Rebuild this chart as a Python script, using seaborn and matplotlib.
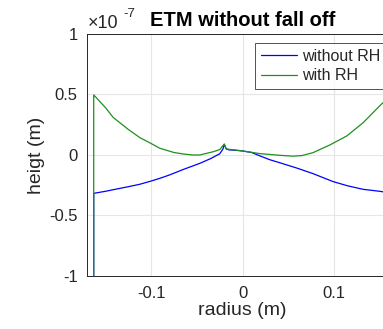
import matplotlib
matplotlib.use("Agg")
import matplotlib.pyplot as plt
import seaborn as sns
import pandas as pd

# radius (m) and height (x1e-7 m)
radius_no_rh = [-0.163, -0.163, -0.15, -0.1417, -0.125, -0.1125, -0.1, -0.0906, -0.08,
                -0.065, -0.0468, -0.035, -0.025, -0.0215, -0.0201, -0.018, -0.015, -0.005,
                0.0, 0.01, 0.019, 0.03, 0.041, 0.06, 0.077, 0.099, 0.115, 0.132, 0.15, 0.163]
height_no_rh = [-1.2, -0.317, -0.30, -0.287, -0.262, -0.242, -0.215, -0.193, -0.165,
                -0.12, -0.069, -0.03, 0.01, 0.05, 0.088, 0.05, 0.042, 0.037,
                0.033, 0.02, -0.008, -0.04, -0.065, -0.11, -0.154, -0.22, -0.255, -0.284, -0.30, -0.317]

radius_rh = [-0.163, -0.163, -0.15, -0.1417, -0.125, -0.1125, -0.1015, -0.0906, -0.075,
             -0.065, -0.055, -0.0468, -0.032, -0.025, -0.0201, -0.018, -0.01, 0.0,
             0.019, 0.041, 0.055, 0.065, 0.077, 0.0956, 0.114, 0.132, 0.15, 0.163]
height_rh = [-1.2, 0.496, 0.39, 0.31, 0.21, 0.143, 0.10, 0.055, 0.02,
             0.008, 0.0, 0.0, 0.027, 0.045, 0.09, 0.05, 0.042, 0.033,
             0.011, -0.003, -0.01, -0.005, 0.019, 0.083, 0.157, 0.267, 0.405, 0.50]

series_names = ["without RH", "with RH"]
series_colors = ["#0000ff", "#1f8f1f"]

df = pd.concat([
    pd.DataFrame({"radius": radius_no_rh, "height": height_no_rh, "series": series_names[0]}),
    pd.DataFrame({"radius": radius_rh, "height": height_rh, "series": series_names[1]}),
], ignore_index=True)

sns.set_theme(style="white")
plt.rcParams["font.family"] = ["Liberation Sans", "DejaVu Sans"]

fig = plt.figure(figsize=(3.83, 3.29), dpi=100)
ax = fig.add_axes([0.228, 0.161, 0.811, 0.736])

sns.lineplot(data=df, x="radius", y="height", hue="series", palette=series_colors,
             estimator=None, sort=False, linewidth=0.9, ax=ax)

ax.set_xlim(-0.17, 0.17)
ax.set_ylim(-1, 1)
ax.set_xticks([-0.1, 0, 0.1])
ax.set_xticklabels(["-0.1", "0", "0.1"])
ax.set_yticks([-1, -0.5, 0, 0.5, 1])
ax.set_yticklabels(["-1", "-0.5", "0", "0.5", "1"])
ax.grid(True, color="#e6e6e6", linewidth=0.8)
ax.tick_params(direction="in", length=3, width=0.7, colors="#262626", labelsize=12)
ax.tick_params(axis="x", pad=7)
ax.tick_params(axis="y", pad=7)
for s in ax.spines.values():
    s.set_color("#262626")
    s.set_linewidth(0.7)

ax.set_xlabel("radius (m)", fontsize=14, color="#262626", labelpad=1)
ax.set_ylabel("heigt (m)", fontsize=14, color="#262626", labelpad=3)
ax.set_title("ETM without fall off", fontsize=14.5, fontweight="bold", color="black", pad=6)
# MATLAB style exponent label
fig.text(88 / 383, 1 - 28.5 / 329, "\u00d710", fontsize=13, color="#262626", va="baseline")
fig.text(123 / 383, 1 - 17 / 329, "-7", fontsize=9.5, color="#262626", va="baseline")

leg = ax.legend(loc="upper left", bbox_to_anchor=(255 / 383, 1 - 43 / 329),
                bbox_transform=fig.transFigure, frameon=True, fancybox=False,
                fontsize=11.5, handlelength=2.3, borderpad=0.35, labelspacing=0.3,
                handletextpad=0.3, borderaxespad=0)
leg.get_frame().set_edgecolor("#262626")
leg.get_frame().set_linewidth(0.7)

fig.savefig("out.png", dpi=100)
